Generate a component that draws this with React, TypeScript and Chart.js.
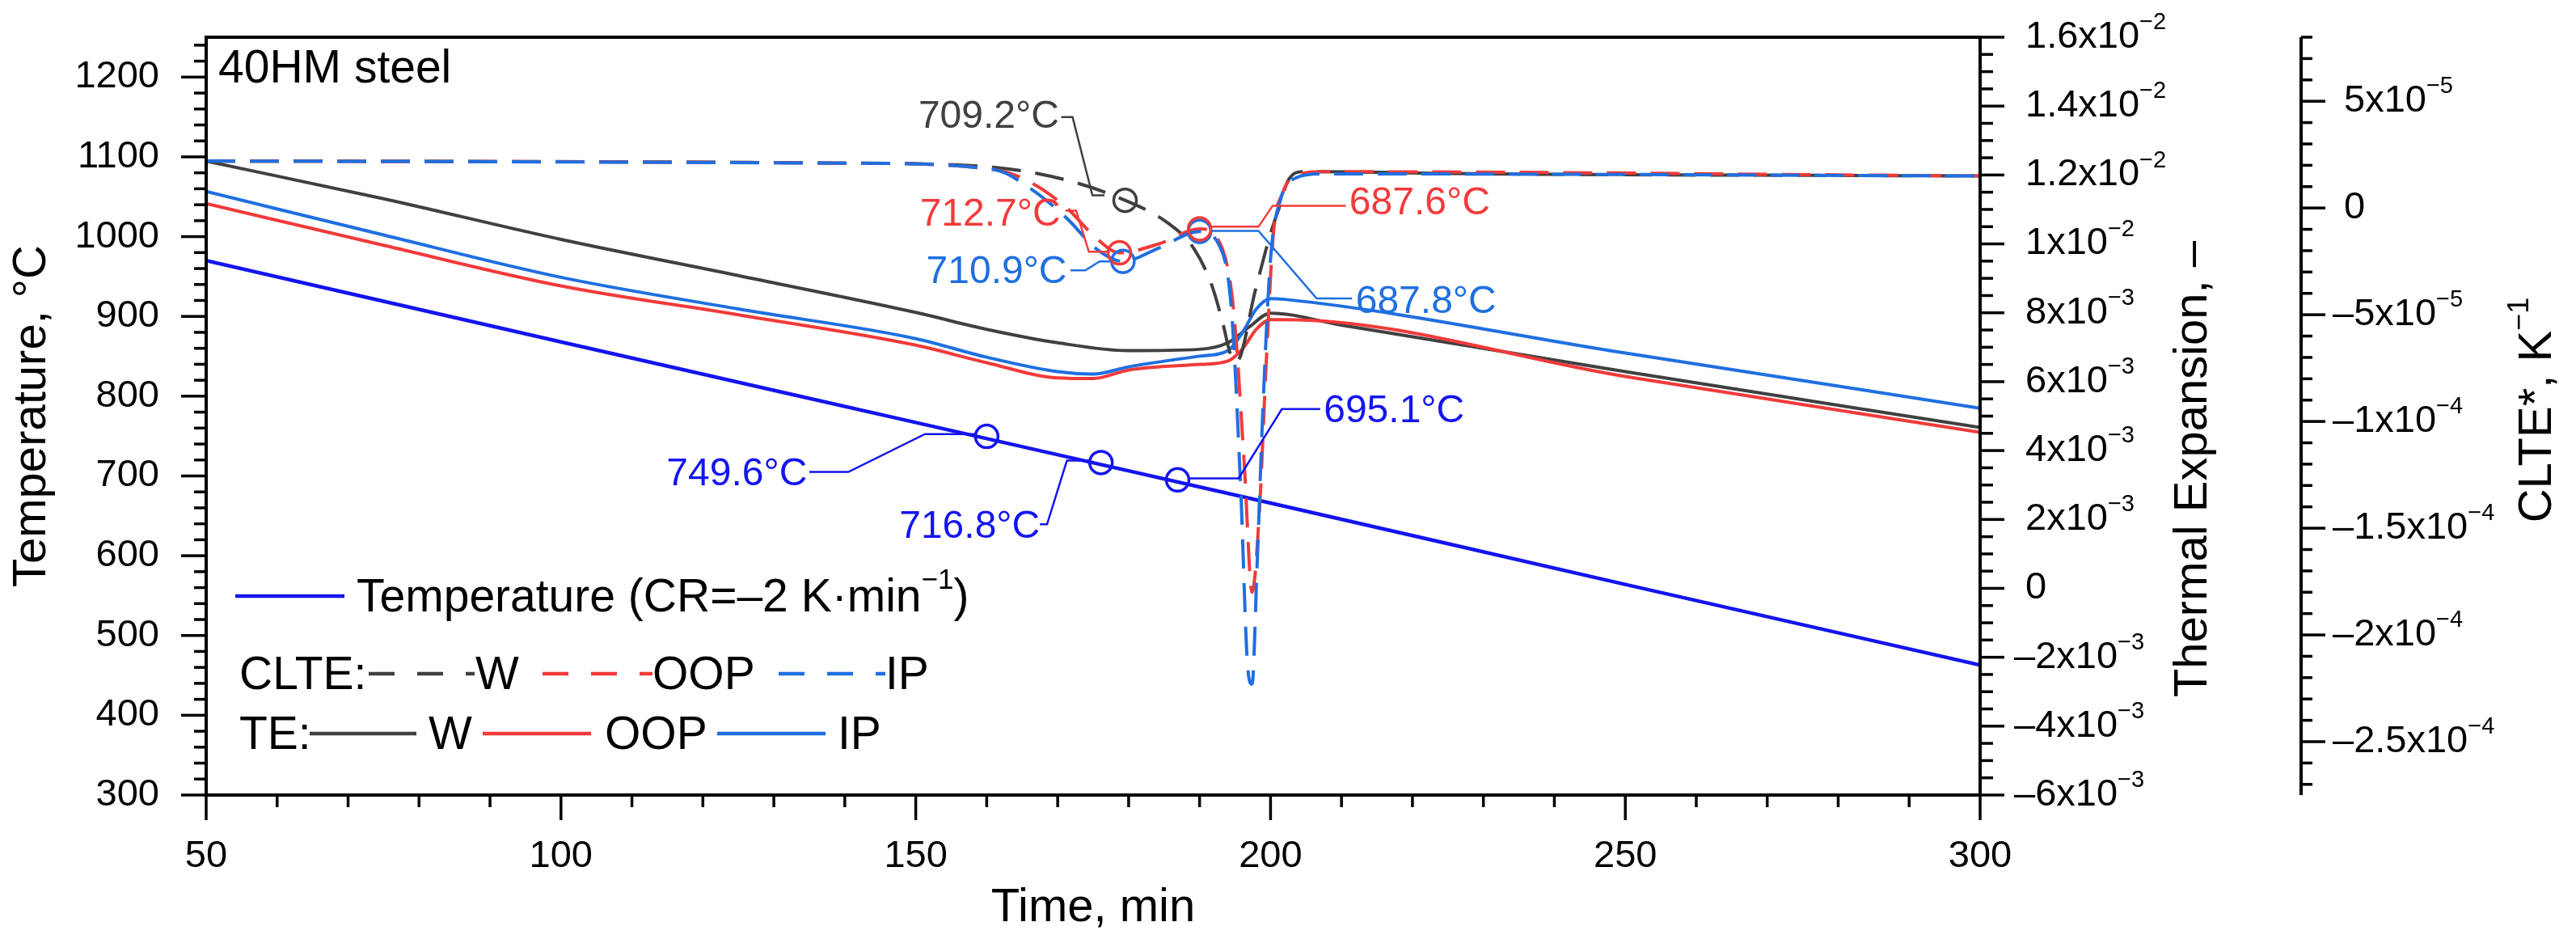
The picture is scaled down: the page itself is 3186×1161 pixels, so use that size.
import { useEffect, useRef } from "react";
import Chart from "chart.js/auto";

const FONT = '"Liberation Sans", Arial, sans-serif';
const C_GRAY = "#404040";
const C_RED = "#f23a3a";
const C_IP = "#1f6fe0";
const C_TEMP = "#1414f0";

// time axis (min)
const tempTime = [50, 100, 150, 200, 250, 300];
const temperature = [970, 868, 767, 666, 564, 463];

// thermal expansion (TE), solid lines
const teWTime = [50, 75, 100, 125, 150, 160, 170, 180, 190, 194, 197, 200, 210, 250, 300];
const teW = [0.0124, 0.01131, 0.01013, 0.00908, 0.00801, 0.00752, 0.00713, 0.0069, 0.00694, 0.00713, 0.00759, 0.00799, 0.00764, 0.00629, 0.00467];
const teTime = [50, 75, 100, 125, 150, 160, 170, 175, 180, 190, 194, 196, 198, 200, 202, 250, 300];
const teOOP = [0.01117, 0.00996, 0.00878, 0.00794, 0.00706, 0.00655, 0.00611, 0.00609, 0.00634, 0.0065, 0.0066, 0.00694, 0.00752, 0.0078, 0.0078, 0.00615, 0.00453];
const teIP = [0.01152, 0.01026, 0.00903, 0.00811, 0.00725, 0.00671, 0.00629, 0.00622, 0.00643, 0.00674, 0.0069, 0.00741, 0.00811, 0.00841, 0.00839, 0.00683, 0.00523];

// CLTE*, dashed lines
const clWTime = [50, 140.8, 161.1, 171.3, 179.5, 185.6, 189.2, 191.7, 193.2, 194.5, 195.2, 197.9, 200, 201.2, 202.5, 204.6, 230, 300];
const clW = [2.2e-5, 2.1e-5, 1.9e-5, 1.3e-5, 3.6e-6, -7.2e-6, -1.9e-5, -3.6e-5, -5.3e-5, -7.0e-5, -7.2e-5, -3.8e-5, -1.2e-5, 0, 1.3e-5, 1.7e-5, 1.6e-5, 1.5e-5];
const clOOPTime = [50, 140.8, 161.1, 166.2, 171.3, 175.4, 178.7, 184.1, 190, 193.2, 194.8, 196.3, 197.4, 198.4, 199.4, 200.4, 201.7, 203.5, 207.1, 300];
const clOOP = [2.2e-5, 2.1e-5, 1.8e-5, 1.2e-5, 0, -1.4e-5, -2.1e-5, -1.7e-5, -9.8e-6, -1.9e-5, -4.8e-5, -1.2e-4, -1.8e-4, -1.44e-4, -7.2e-5, -1.2e-5, 7e-6, 1.5e-5, 1.7e-5, 1.5e-5];
const clIPTime = [50, 140.8, 161.1, 166.2, 171.3, 175.4, 179.2, 184.1, 190, 192.7, 194.5, 195.8, 196.8, 197.4, 198.1, 198.9, 200, 201.5, 203.5, 207.1, 300];
const clIP = [2.2e-5, 2.1e-5, 1.8e-5, 9e-6, -4.9e-6, -1.9e-5, -2.5e-5, -1.9e-5, -1.1e-5, -1.7e-5, -4.8e-5, -1.32e-4, -2.16e-4, -2.23e-4, -1.68e-4, -9.6e-5, -2.4e-5, 4.9e-6, 1.4e-5, 1.6e-5, 1.5e-5];

// marked points
const tempMarks = [
  { x: 160, y: 749.6 },
  { x: 176.1, y: 716.8 },
  { x: 186.9, y: 695.1 },
];
const clWMarks = [{ x: 179.5, y: 3.6e-6 }];
const clOOPMarks = [{ x: 178.7, y: -2.1e-5 }, { x: 190, y: -9.8e-6 }];
const clIPMarks = [{ x: 179.2, y: -2.5e-5 }, { x: 190, y: -1.1e-5 }];

// annotation labels: anchor and leader in (time, temperature-axis) units
type Note = { text: string; color: string; at: [number, number]; align: "left" | "right"; path: [number, number][] };
const notes: Note[] = [
  { text: "709.2°C", color: C_GRAY, at: [170.2, 1150], align: "right", path: [[170.5, 1150], [172.1, 1150], [174.9, 1051.8], [176.6, 1051.8]] },
  { text: "712.7°C", color: C_RED, at: [170.4, 1027], align: "right", path: [[171.1, 1032.6], [172.6, 1032.6], [174.4, 981], [177.2, 981]] },
  { text: "710.9°C", color: C_IP, at: [171.3, 955], align: "right", path: [[171.8, 957.8], [173.9, 957.8], [175.9, 968.9], [177.6, 968.9]] },
  { text: "687.6°C", color: C_RED, at: [211.1, 1041], align: "left", path: [[191.7, 1012.4], [198.3, 1012.4], [200.3, 1038.7], [210.6, 1038.7]] },
  { text: "687.8°C", color: C_IP, at: [212, 918], align: "left", path: [[191.7, 1007.3], [198.3, 1007.3], [206.5, 922.4], [211.5, 922.4]] },
  { text: "749.6°C", color: C_TEMP, at: [134.7, 702], align: "right", path: [[158.4, 752.5], [151.3, 752.5], [140.5, 705], [135.0, 705]] },
  { text: "716.8°C", color: C_TEMP, at: [167.5, 636], align: "right", path: [[174.4, 719.2], [171.3, 719.2], [168.5, 639.3], [167.5, 639.3]] },
  { text: "695.1°C", color: C_TEMP, at: [207.5, 781], align: "left", path: [[188.6, 697], [195.5, 697], [201.6, 783.9], [207, 783.9]] },
];

// ticks
const xTicks = [50, 100, 150, 200, 250, 300];
const tempTicks = [300, 400, 500, 600, 700, 800, 900, 1000, 1100, 1200];
const teTicks: [number, string, string][] = [
  [0.016, "1.6x10", "−2"], [0.014, "1.4x10", "−2"], [0.012, "1.2x10", "−2"], [0.01, "1x10", "−2"],
  [0.008, "8x10", "−3"], [0.006, "6x10", "−3"], [0.004, "4x10", "−3"], [0.002, "2x10", "−3"],
  [0, "0", ""], [-0.002, "–2x10", "−3"], [-0.004, "–4x10", "−3"], [-0.006, "–6x10", "−3"],
];
const clTicks: [number, string, string][] = [
  [5e-5, "5x10", "−5"], [0, "0", ""], [-5e-5, "–5x10", "−5"], [-1e-4, "–1x10", "−4"],
  [-1.5e-4, "–1.5x10", "−4"], [-2e-4, "–2x10", "−4"], [-2.5e-4, "–2.5x10", "−4"],
];

const xy = (xs: number[], ys: number[]) => xs.map((x, i) => ({ x, y: ys[i] }));

type Part = { t: string; sup?: boolean };
function richWidth(ctx: CanvasRenderingContext2D, parts: Part[], size: number) {
  let w = 0;
  for (const p of parts) {
    ctx.font = `${p.sup ? Math.round(size * 0.62) : size}px ${FONT}`;
    w += ctx.measureText(p.t).width;
  }
  return w;
}
function drawRich(ctx: CanvasRenderingContext2D, parts: Part[], x: number, y: number, size: number, align: "left" | "right" | "center") {
  const w = richWidth(ctx, parts, size);
  let cx = align === "left" ? x : align === "right" ? x - w : x - w / 2;
  ctx.textAlign = "left";
  ctx.textBaseline = "middle";
  for (const p of parts) {
    const s = p.sup ? Math.round(size * 0.62) : size;
    ctx.font = `${s}px ${FONT}`;
    ctx.fillText(p.t, cx, p.sup ? y - size * 0.38 : y);
    cx += ctx.measureText(p.t).width;
  }
}

const decorPlugin = {
  id: "decor",
  afterDraw(chart: any) {
    const ctx: CanvasRenderingContext2D = chart.ctx;
    const { left, right, top, bottom } = chart.chartArea;
    const sx = chart.scales.x, sy = chart.scales.y, ste = chart.scales.yTE, scl = chart.scales.yCL;
    ctx.save();
    ctx.strokeStyle = "#000";
    ctx.fillStyle = "#000";
    ctx.lineWidth = 4;
    ctx.lineCap = "butt";
    // frame
    ctx.strokeRect(left, top, right - left, bottom - top);
    // CLTE axis line
    const xc = scl.left;
    ctx.beginPath();
    ctx.moveTo(xc, top);
    ctx.lineTo(xc, bottom);
    ctx.stroke();

    const tick = (x1: number, y1: number, x2: number, y2: number) => {
      ctx.beginPath();
      ctx.moveTo(x1, y1);
      ctx.lineTo(x2, y2);
      ctx.stroke();
    };
    ctx.lineWidth = 3.5;
    for (let v = 50; v <= 300.01; v += 10) {
      const p = sx.getPixelForValue(v);
      tick(p, bottom, p, bottom + (Math.round(v) % 50 === 0 ? 31 : 15));
    }
    for (let v = 300; v <= 1250.01; v += 20) {
      const p = sy.getPixelForValue(v);
      tick(left, p, left - (Math.round(v) % 100 === 0 ? 31 : 15), p);
    }
    for (let i = 0; i <= 44; i++) {
      const v = -0.006 + i * 0.0005;
      const p = ste.getPixelForValue(v);
      tick(right, p, right + (i % 4 === 0 ? 30 : 16), p);
    }
    for (let i = 0; i <= 35; i++) {
      const v = -2.7e-4 + i * 1e-5;
      const p = scl.getPixelForValue(v);
      tick(xc, p, xc + (Math.round(v * 1e5) % 5 === 0 ? 30 : 14), p);
    }

    // tick labels
    const TS = 47;
    ctx.font = `${TS}px ${FONT}`;
    ctx.textBaseline = "middle";
    ctx.textAlign = "center";
    xTicks.forEach((v) => ctx.fillText(String(v), sx.getPixelForValue(v), bottom + 76));
    ctx.textAlign = "right";
    tempTicks.forEach((v) => ctx.fillText(String(v), left - 58, sy.getPixelForValue(v)));
    const expLabel = (v: number, m: string, e: string, x0: number, scale: any) => {
      const parts: Part[] = [{ t: m }];
      if (e) parts.push({ t: e, sup: true });
      drawRich(ctx, parts, m.startsWith("–") ? x0 - 14 : x0, scale.getPixelForValue(v), TS, "left");
    };
    teTicks.forEach(([v, m, e]) => expLabel(v, m, e, right + 56, ste));
    clTicks.forEach(([v, m, e]) => expLabel(v, m, e, xc + 53, scl));

    // axis titles
    const TT = 58;
    ctx.font = `${TT}px ${FONT}`;
    ctx.textAlign = "center";
    ctx.fillText("Time, min", (left + right) / 2, bottom + 140);
    const vTitle = (parts: Part[], x: number, y: number) => {
      ctx.save();
      ctx.translate(x, y);
      ctx.rotate(-Math.PI / 2);
      drawRich(ctx, parts, 0, 0, TT, "center");
      ctx.restore();
    };
    vTitle([{ t: "Temperature, °C" }], 40, (top + bottom) / 2);
    vTitle([{ t: "Thermal Expansion, –" }], 2713, 580);
    vTitle([{ t: "CLTE*, K" }, { t: "−1", sup: true }], 3139, 507);

    // in-plot title
    ctx.font = `57px ${FONT}`;
    ctx.textAlign = "left";
    ctx.fillText("40HM steel", 270, 86);

    // annotations
    const X = (t: number) => sx.getPixelForValue(t);
    const Y = (T: number) => sy.getPixelForValue(T);
    notes.forEach((n) => {
      ctx.strokeStyle = n.color;
      ctx.fillStyle = n.color;
      ctx.lineWidth = 2.5;
      ctx.beginPath();
      n.path.forEach(([t, T], i) => (i ? ctx.lineTo(X(t), Y(T)) : ctx.moveTo(X(t), Y(T))));
      ctx.stroke();
      ctx.font = `48px ${FONT}`;
      ctx.textAlign = n.align;
      ctx.textBaseline = "middle";
      ctx.fillText(n.text, X(n.at[0]), Y(n.at[1]));
    });

    // legend
    const LS = 57;
    const seg = (x1: number, x2: number, y: number, color: string, dashed: boolean) => {
      ctx.strokeStyle = color;
      ctx.lineWidth = 4.5;
      ctx.setLineDash(dashed ? [32, 28] : []);
      ctx.beginPath();
      ctx.moveTo(x1, y);
      ctx.lineTo(x2, y);
      ctx.stroke();
      ctx.setLineDash([]);
    };
    ctx.fillStyle = "#000";
    ctx.textAlign = "left";
    ctx.font = `${LS}px ${FONT}`;
    seg(291, 426, 737, C_TEMP, false);
    drawRich(ctx, [{ t: "Temperature (CR=–2 K·min" }, { t: "−1", sup: true }, { t: ")" }], 441, 740, LS, "left");
    ctx.fillStyle = "#000";
    ctx.font = `${LS}px ${FONT}`;
    ctx.textAlign = "left";
    ctx.fillText("CLTE:", 296, 836);
    seg(456, 587, 833, C_GRAY, true);
    ctx.fillText("W", 588, 836);
    seg(671, 807, 833, C_RED, true);
    ctx.fillText("OOP", 807, 836);
    seg(963, 1095, 833, C_IP, true);
    ctx.fillText("IP", 1095, 836);
    ctx.fillText("TE:", 296, 910);
    seg(383, 515, 907, C_GRAY, false);
    ctx.fillText("W", 530, 910);
    seg(597, 731, 907, C_RED, false);
    ctx.fillText("OOP", 748, 910);
    seg(887, 1021, 907, C_IP, false);
    ctx.fillText("IP", 1036, 910);
    ctx.restore();
  },
};

export default function App() {
  const canvasRef = useRef<HTMLCanvasElement>(null);

  useEffect(() => {
    document.body.style.margin = "0";
    if (!canvasRef.current) return;
    const line = (label: string, data: any[], color: string, axis: string, dashed: boolean, width = 4) => ({
      label,
      data,
      borderColor: color,
      backgroundColor: color,
      borderWidth: width,
      borderDash: dashed ? [36, 18] : [],
      pointRadius: 0,
      cubicInterpolationMode: "monotone" as const,
      yAxisID: axis,
      showLine: true,
    });
    const marks = (data: any[], color: string, axis: string) => ({
      label: "m",
      data,
      borderColor: color,
      backgroundColor: "rgba(0,0,0,0)",
      borderWidth: 3.5,
      pointRadius: 14,
      pointStyle: "circle",
      showLine: false,
      yAxisID: axis,
    });
    const fixW = (w: number) => (s: any) => { s.width = w; };
    const chart = new Chart(canvasRef.current, {
      type: "scatter",
      data: {
        datasets: [
          marks(tempMarks, C_TEMP, "y"),
          marks(clWMarks, C_GRAY, "yCL"),
          marks(clOOPMarks, C_RED, "yCL"),
          marks(clIPMarks, C_IP, "yCL"),
          line("CLTE IP", xy(clIPTime, clIP), C_IP, "yCL", true),
          line("CLTE OOP", xy(clOOPTime, clOOP), C_RED, "yCL", true),
          line("CLTE W", xy(clWTime, clW), C_GRAY, "yCL", true),
          line("Temperature", xy(tempTime, temperature), C_TEMP, "y", false, 4.5),
          line("TE IP", xy(teTime, teIP), C_IP, "yTE", false),
          line("TE OOP", xy(teTime, teOOP), C_RED, "yTE", false),
          line("TE W", xy(teWTime, teW), C_GRAY, "yTE", false),
        ],
      },
      options: {
        responsive: false,
        devicePixelRatio: 1,
        animation: false,
        layout: { padding: { top: 46, left: 0, right: 0, bottom: 0 } },
        plugins: { legend: { display: false }, tooltip: { enabled: false } },
        scales: {
          x: {
            type: "linear", min: 50, max: 300,
            ticks: { display: false }, grid: { display: false }, border: { display: false },
            afterFit: (s: any) => { s.height = 178; },
          },
          y: {
            position: "left", min: 300, max: 1250,
            ticks: { display: false }, grid: { display: false }, border: { display: false },
            afterFit: fixW(255),
          },
          yTE: {
            position: "right", weight: 0, min: -0.006, max: 0.016,
            ticks: { display: false }, grid: { display: false }, border: { display: false },
            afterFit: fixW(397),
          },
          yCL: {
            position: "right", weight: 1, min: -2.75e-4, max: 8e-5,
            ticks: { display: false }, grid: { display: false }, border: { display: false },
            afterFit: fixW(340),
          },
        },
      },
      plugins: [decorPlugin],
    } as any);
    return () => chart.destroy();
  }, []);

  return (
    <div style={{ width: 3186, height: 1161, background: "#fff" }}>
      <canvas ref={canvasRef} width={3186} height={1161} />
    </div>
  );
}
